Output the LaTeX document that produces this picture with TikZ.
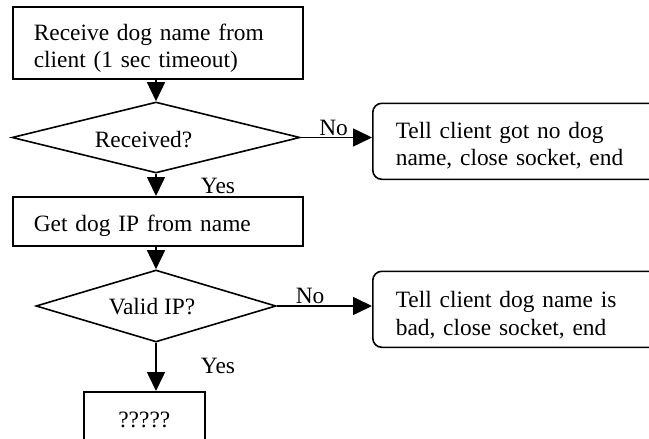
\documentclass[tikz,border=0pt]{standalone}
\usepackage{fontspec}
\setmainfont{Liberation Serif}
\usetikzlibrary{arrows.meta,shapes.geometric}

\tikzset{
  every node/.style={font=\fontsize{23.4}{27.6}\selectfont},
  flow/.style={line width=1.6pt, -{Triangle[length=19pt,width=18pt]}},
  procbox/.style={draw, line width=1.6pt, anchor=north west, align=left, inner xsep=21pt, inner ysep=0pt, text height=22pt, text depth=1pt},
  endbox/.style={procbox, rounded corners=9pt, inner xsep=23pt},
  decision/.style={draw, diamond, line width=1.6pt, inner sep=0pt},
  lbl/.style={inner sep=1pt},
}

\begin{document}
\begin{tikzpicture}[x=1pt, y=-1pt]
    \useasboundingbox (0,0) rectangle (649,439);
    \clip (0,0) rectangle (649,439);

    % main column
    \node[procbox, text width=248pt, minimum height=72pt, text depth=27.4pt] (recv) at (12,6) {Receive dog name from\\client (1 sec timeout)};
    \node[decision, minimum width=288pt, minimum height=71pt,
          label={[xshift=-12.5pt, yshift=-2.5pt]center:Received?}] (rcvd) at (156,137.5) {};
    \node[procbox, text width=248pt, minimum height=49pt] (getip) at (12,196) {Get dog IP from name};
    \node[decision, minimum width=240pt, minimum height=72pt,
          label={[xshift=-4pt, yshift=-1pt]center:Valid IP?}] (valid) at (156,306) {};
    \node[procbox, text width=79pt, minimum height=56pt, align=center, text depth=6.6pt] (todo) at (83,391) {?????};

    % failure exits
    \node[endbox, text width=260pt, minimum height=76pt, text depth=28.4pt] (noname) at (372,102.5) {Tell client got no dog\\name, close socket, end};
    \node[endbox, text width=260pt, minimum height=76pt, text depth=25.6pt] (badname) at (372,270.5) {Tell client dog name is\\bad, close socket, end};

    \draw[flow] (rcvd.north |- recv.south) -- (rcvd.north);
    \draw[flow] (rcvd.south) -- (rcvd.south |- getip.north);
    \draw[flow] (valid.north |- getip.south) -- (valid.north);
    \draw[flow] (valid.south) -- (valid.south |- todo.north);
    \draw[flow] (rcvd.east) -- (rcvd.east -| noname.west) node[lbl, pos=0.46, above] (no1) {No};
    \draw[flow] (valid.east) -- (valid.east -| badname.west) node[lbl, pos=0.35, above] (no2) {No};
    \node[lbl] (yes1) at (218,186) {Yes};
    \node[lbl] (yes2) at (218,366) {Yes};
\end{tikzpicture}
\end{document}
